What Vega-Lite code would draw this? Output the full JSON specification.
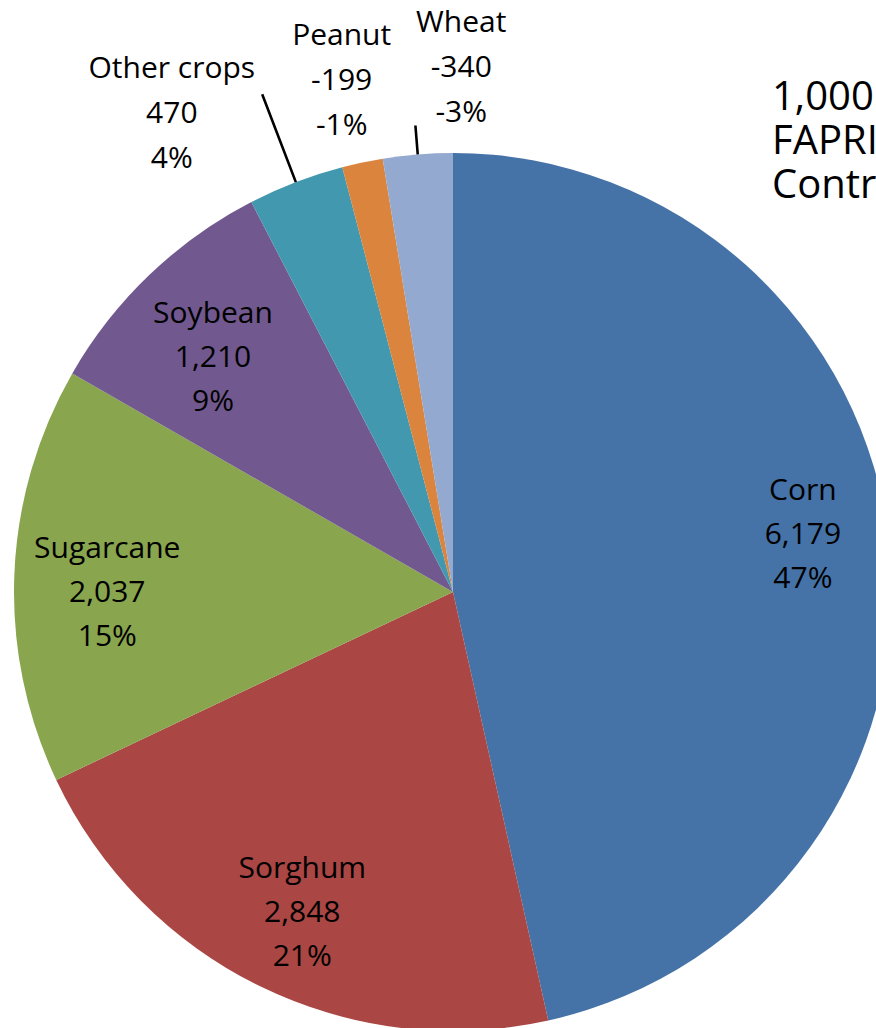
{
  "$schema": "https://vega.github.io/schema/vega-lite/v6.json",
  "width": 906,
  "height": 1184,
  "autosize": {"type": "none"},
  "padding": {"left": 0, "top": 0, "right": -30, "bottom": -156},
  "background": "white",
  "config": {"view": {"stroke": null}, "text": {"font": "Open Sans"}},
  "title": {
    "text": ["1,000", "FAPRI", "Contr"],
    "orient": "top",
    "anchor": "start",
    "frame": "group",
    "align": "left",
    "baseline": "top",
    "dx": 772,
    "offset": -206,
    "font": "Open Sans",
    "fontSize": 40,
    "fontWeight": "normal",
    "color": "black",
    "lineHeight": 44
  },
  "data": {
    "values": [
      {"crop": "Corn", "abs_value": 6179, "label": "Corn\n6,179\n47%"},
      {"crop": "Sorghum", "abs_value": 2848, "label": "Sorghum\n2,848\n21%"},
      {"crop": "Sugarcane", "abs_value": 2037, "label": "Sugarcane\n2,037\n15%"},
      {"crop": "Soybean", "abs_value": 1210, "label": "Soybean\n1,210\n9%"},
      {"crop": "Other crops", "abs_value": 470, "label": "Other crops\n470\n4%"},
      {"crop": "Peanut", "abs_value": 199, "label": "Peanut\n-199\n-1%"},
      {"crop": "Wheat", "abs_value": 340, "label": "Wheat\n-340\n-3%"}
    ]
  },
  "transform": [{"window": [{"op": "row_number", "as": "idx"}]}],
  "encoding": {
    "theta": {"field": "abs_value", "type": "quantitative", "stack": true},
    "order": {"field": "idx", "type": "quantitative", "sort": "ascending"},
    "detail": {"field": "crop", "type": "nominal"}
  },
  "layer": [
    {
      "mark": {"type": "arc", "outerRadius": 439, "innerRadius": 0},
      "encoding": {
        "color": {
          "field": "crop",
          "type": "nominal",
          "scale": {
            "domain": ["Corn", "Sorghum", "Sugarcane", "Soybean", "Other crops", "Peanut", "Wheat"],
            "range": ["#4572A7", "#AA4643", "#89A54E", "#71588F", "#4198AF", "#DB843D", "#93A9CF"]
          },
          "legend": null
        }
      }
    },
    {
      "mark": {"type": "arc", "outerRadius": 533, "innerRadius": 439, "padAngle": 3.14, "fill": null, "fillOpacity": 0, "stroke": "black", "strokeWidth": 2.6},
      "encoding": {
        "strokeOpacity": {"condition": {"test": "datum.crop === 'Other crops'", "value": 1}, "value": 0}
      }
    },
    {
      "mark": {"type": "arc", "outerRadius": 468, "innerRadius": 439, "padAngle": 3.14, "fill": null, "fillOpacity": 0, "stroke": "black", "strokeWidth": 2.6},
      "encoding": {
        "strokeOpacity": {"condition": {"test": "datum.crop === 'Wheat'", "value": 1}, "value": 0}
      }
    },
    {
      "mark": {"type": "text", "radius": 350, "dx": 2, "dy": -63, "fontSize": 30, "lineBreak": "\n", "lineHeight": 44, "align": "center", "baseline": "middle", "color": "black"},
      "encoding": {"text": {"condition": {"test": "datum.crop === 'Corn'", "field": "label", "type": "nominal"}, "value": ""}}
    },
    {
      "mark": {"type": "text", "radius": 350, "dx": 3, "dy": -37, "fontSize": 30, "lineBreak": "\n", "lineHeight": 44, "align": "center", "baseline": "middle", "color": "black"},
      "encoding": {"text": {"condition": {"test": "datum.crop === 'Sorghum'", "field": "label", "type": "nominal"}, "value": ""}}
    },
    {
      "mark": {"type": "text", "radius": 350, "dx": 4, "dy": -29, "fontSize": 30, "lineBreak": "\n", "lineHeight": 44, "align": "center", "baseline": "middle", "color": "black"},
      "encoding": {"text": {"condition": {"test": "datum.crop === 'Sugarcane'", "field": "label", "type": "nominal"}, "value": ""}}
    },
    {
      "mark": {"type": "text", "radius": 350, "dx": 2, "dy": -25, "fontSize": 30, "lineBreak": "\n", "lineHeight": 44, "align": "center", "baseline": "middle", "color": "black"},
      "encoding": {"text": {"condition": {"test": "datum.crop === 'Soybean'", "field": "label", "type": "nominal"}, "value": ""}}
    },
    {
      "mark": {"type": "text", "radius": 520, "dx": -95, "dy": -37, "fontSize": 30, "lineBreak": "\n", "lineHeight": 45, "align": "center", "baseline": "middle", "color": "black"},
      "encoding": {"text": {"condition": {"test": "datum.crop === 'Other crops'", "field": "label", "type": "nominal"}, "value": ""}}
    },
    {
      "mark": {"type": "text", "radius": 520, "dx": -4, "dy": -47, "fontSize": 30, "lineBreak": "\n", "lineHeight": 45, "align": "center", "baseline": "middle", "color": "black"},
      "encoding": {"text": {"condition": {"test": "datum.crop === 'Peanut'", "field": "label", "type": "nominal"}, "value": ""}}
    },
    {
      "mark": {"type": "text", "radius": 520, "dx": 50, "dy": -51, "fontSize": 30, "lineBreak": "\n", "lineHeight": 45, "align": "center", "baseline": "middle", "color": "black"},
      "encoding": {"text": {"condition": {"test": "datum.crop === 'Wheat'", "field": "label", "type": "nominal"}, "value": ""}}
    }
  ]
}
